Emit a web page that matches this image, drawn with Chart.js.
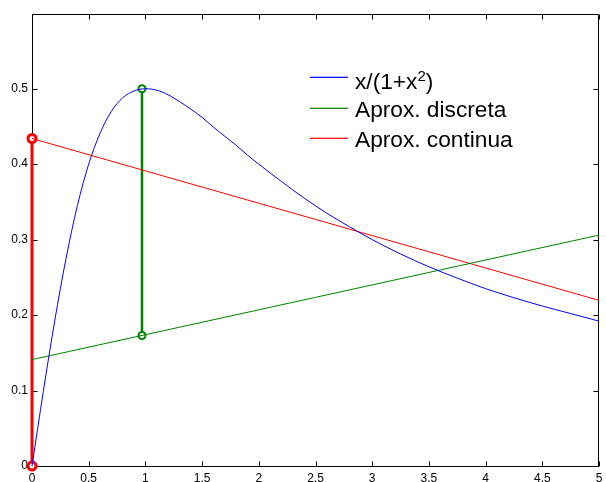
<!DOCTYPE html>
<html>
<head>
<meta charset="utf-8">
<script src="https://cdn.jsdelivr.net/npm/chart.js@4"></script>
<style>
html,body{margin:0;padding:0;background:#fff;}
canvas{display:block;}
</style>
</head>
<body>
<canvas id="c" width="606" height="482"></canvas>
<script>
// ---- data ----
const curveX = [0,0.1,0.2,0.3,0.4,0.5,0.6,0.7,0.8,0.9,1.0,1.1,1.2,1.3,1.4,1.5,1.6,1.7,1.8,1.9,2.0,2.2,2.4,2.6,2.8,3.0,3.25,3.5,3.75,4.0,4.25,4.5,4.75,5.0];
const curveY = [0,0.099,0.192,0.275,0.345,0.400,0.441,0.470,0.488,0.497,0.500,0.498,0.492,0.483,0.473,0.462,0.449,0.437,0.425,0.412,0.400,0.377,0.355,0.335,0.317,0.300,0.281,0.264,0.249,0.235,0.223,0.212,0.202,0.192];
const discreteX = [0, 5];
const discreteY = [0.141, 0.306];
const discreteStemX = [0.97, 0.97];
const discreteStemY = [0.173, 0.500];
const continuousX = [0, 5];
const continuousY = [0.434, 0.2195];
const continuousStemX = [0, 0];
const continuousStemY = [0, 0.434];
const xTicks = [0,0.5,1,1.5,2,2.5,3,3.5,4,4.5,5];
const yTicks = [0,0.1,0.2,0.3,0.4,0.5];
const legendLabels = ["x/(1+x^2)", "Aprox. discreta", "Aprox. continua"];

const BLUE = '#0000ff', GREEN = '#008000', RED = '#ff0000';
const pts = (xs, ys) => xs.map((x, i) => ({x: x, y: ys[i]}));

const boxPlugin = {
  id: 'box',
  beforeDatasetsDraw(chart) {
    const ctx = chart.ctx, a = chart.chartArea;
    const xs = chart.scales.x, ys = chart.scales.y;
    const L = Math.round(a.left) + 0.5, R = Math.round(a.right) - 0.5;
    const T = Math.round(a.top) + 0.5, B = Math.round(a.bottom) + 0.5;
    ctx.save();
    ctx.strokeStyle = '#000';
    ctx.lineWidth = 1;
    ctx.beginPath();
    const tl = 5;
    xTicks.forEach(v => {
      const px = Math.round(xs.getPixelForValue(v)) + 0.5;
      ctx.moveTo(px, B); ctx.lineTo(px, B - tl);
      ctx.moveTo(px, T); ctx.lineTo(px, T + tl);
    });
    yTicks.forEach(v => {
      const py = Math.round(ys.getPixelForValue(v)) + 0.5;
      ctx.moveTo(L, py); ctx.lineTo(L + tl, py);
      ctx.moveTo(R, py); ctx.lineTo(R - tl, py);
    });
    ctx.stroke();
    ctx.beginPath();
    ctx.rect(L, T, R - L, B - T);
    ctx.stroke();
    ctx.restore();
  },
  afterDraw(chart) {
    const ctx = chart.ctx;
    const rowColors = [BLUE, GREEN, RED];
    const rows = [77, 108, 138];
    const offs = [12, 8.5, 9];
    ctx.save();
    legendLabels.forEach((lab, i) => {
      const y = rows[i];
      ctx.fillStyle = rowColors[i];
      ctx.fillRect(310, y - 0.3, 38, 1.2);
    });
    legendLabels.forEach((lab, i) => {
      const y = rows[i];
      ctx.fillStyle = '#000';
      ctx.textBaseline = 'alphabetic';
      ctx.textAlign = 'left';
      const base = y + offs[i];
      let x = 355;
      const parts = lab.split(/(\^\d)/);
      parts.forEach(p => {
        if (p.startsWith('^')) {
          ctx.font = '15px "Liberation Sans", Arial, sans-serif';
          ctx.fillText(p.slice(1), x, base - 8.5);
          x += ctx.measureText(p.slice(1)).width;
        } else if (p.length) {
          ctx.font = '22.7px "Liberation Sans", Arial, sans-serif';
          ctx.fillText(p, x, base);
          x += ctx.measureText(p).width;
        }
      });
    });
    ctx.restore();
  }
};

const tickFont = {family: '"Liberation Sans", Arial, sans-serif', size: 12};

new Chart(document.getElementById('c'), {
  type: 'scatter',
  data: {
    datasets: [
      {label: legendLabels[0], data: pts(curveX, curveY), showLine: true, borderColor: BLUE, borderWidth: 1, pointRadius: 0, cubicInterpolationMode: 'monotone', clip: false},
      {label: legendLabels[1], data: pts(discreteX, discreteY), showLine: true, borderColor: GREEN, borderWidth: 1, pointRadius: 0, clip: false},
      {label: legendLabels[2], data: pts(continuousX, continuousY), showLine: true, borderColor: RED, borderWidth: 1, pointRadius: 0, clip: false},
      {label: 'stem d', data: pts(discreteStemX, discreteStemY), showLine: true, borderColor: GREEN, borderWidth: 2.5, pointRadius: 3.5, pointBorderWidth: 2, pointBorderColor: GREEN, pointBackgroundColor: '#fff', clip: false},
      {label: 'stem c', data: pts(continuousStemX, continuousStemY), showLine: true, borderColor: RED, borderWidth: 3, pointRadius: 4, pointBorderWidth: 3, pointBorderColor: RED, pointBackgroundColor: '#fff', clip: false}
    ]
  },
  options: {
    responsive: false,
    animation: false,
    devicePixelRatio: 1,
    layout: {padding: {top: 14, right: 1, left: 0, bottom: 0}},
    plugins: {legend: {display: false}, tooltip: {enabled: false}},
    scales: {
      x: {
        type: 'linear', min: 0, max: 5,
        grid: {display: false, drawTicks: false},
        border: {display: false},
        afterBuildTicks: s => { s.ticks = xTicks.map(v => ({value: v})); },
        afterFit: s => { s.height = 16; s.paddingLeft = 0; s.paddingRight = 0; },
        ticks: {font: tickFont, color: '#000', padding: 5, maxRotation: 0, autoSkip: false, callback: v => String(v)}
      },
      y: {
        type: 'linear', min: 0, max: 0.599,
        grid: {display: false, drawTicks: false},
        border: {display: false},
        afterBuildTicks: s => { s.ticks = yTicks.map(v => ({value: v})); },
        afterFit: s => { s.width = 32; s.paddingTop = 0; s.paddingBottom = 0; },
        ticks: {font: tickFont, color: '#000', padding: 4, autoSkip: false, callback: v => String(Math.round(v * 10) / 10)}
      }
    }
  },
  plugins: [boxPlugin]
});
</script>
</body>
</html>
